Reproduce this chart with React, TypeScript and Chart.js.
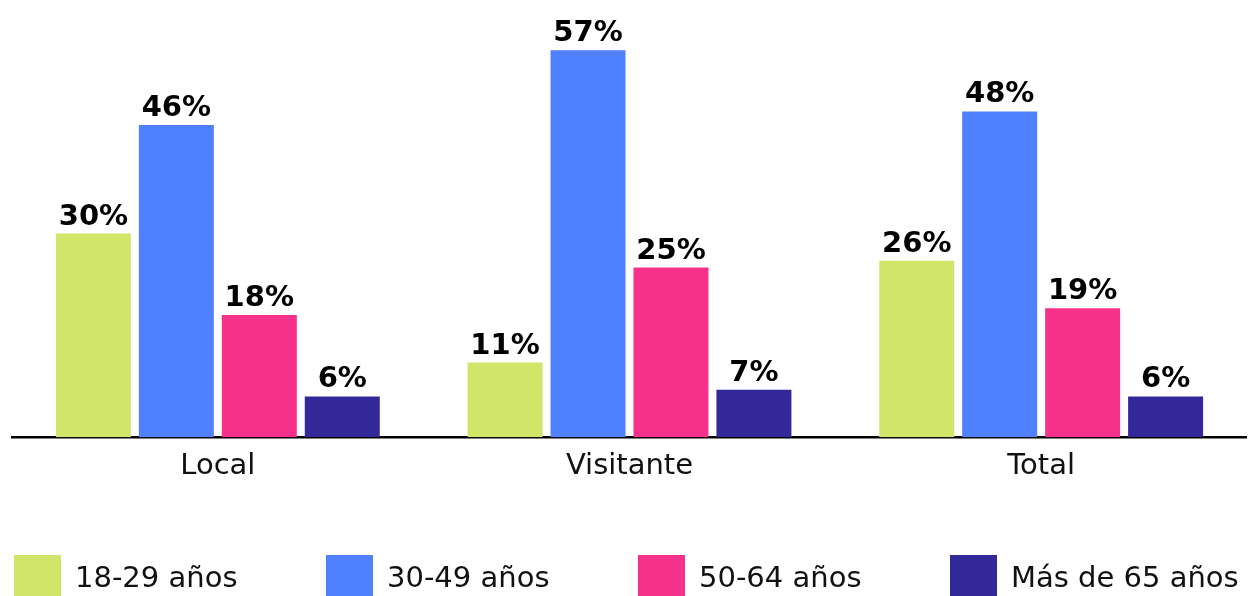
import React, { useEffect, useRef } from "react";
import { Chart, registerables } from "chart.js";

Chart.register(...registerables);

const categories = ["Local", "Visitante", "Total"];
const seriesNames = ["18-29 años", "30-49 años", "50-64 años", "Más de 65 años"];
const age18to29 = [30, 11, 26];
const age30to49 = [46, 57, 48];
const age50to64 = [18, 25, 19];
const age65plus = [6, 7, 6];
const seriesColors = ["#D1E669", "#4F80FF", "#F5318B", "#32289A"];

const FONT = "'DejaVu Sans', sans-serif";

const valueLabels = {
  id: "valueLabels",
  afterDatasetsDraw(chart: any) {
    const ctx = chart.ctx;
    ctx.save();
    ctx.font = `bold 29px ${FONT}`;
    ctx.fillStyle = "#000";
    ctx.textAlign = "center";
    ctx.textBaseline = "alphabetic";
    chart.data.datasets.forEach((ds: any, i: number) => {
      const meta = chart.getDatasetMeta(i);
      meta.data.forEach((bar: any, j: number) => {
        ctx.fillText(`${ds.data[j]}%`, bar.x, bar.y - 9);
      });
    });
    ctx.restore();
  },
};

// Legend laid out on an even grid, as in the reference
const gridLegend = {
  id: "gridLegend",
  afterDraw(chart: any) {
    const ctx = chart.ctx;
    ctx.save();
    ctx.font = `29px ${FONT}`;
    ctx.textBaseline = "middle";
    ctx.textAlign = "left";
    const colW = 312;
    const x0 = 6;
    const boxTop = 547;
    chart.data.datasets.forEach((ds: any, i: number) => {
      const x = x0 + i * colW;
      ctx.fillStyle = ds.backgroundColor;
      ctx.fillRect(x, boxTop, 47, 45);
      ctx.fillStyle = "#111";
      ctx.fillText(ds.label, x + 61, boxTop + 24);
    });
    ctx.restore();
  },
};

export default function App() {
  const ref = useRef<HTMLCanvasElement>(null);
  useEffect(() => {
    const series = [age18to29, age30to49, age50to64, age65plus];
    const chart = new Chart(ref.current!, {
      type: "bar",
      data: {
        labels: categories,
        datasets: series.map((d, i) => ({
          label: seriesNames[i],
          data: d,
          backgroundColor: seriesColors[i],
          borderWidth: 0,
          categoryPercentage: 0.806,
          barPercentage: 0.904,
        })),
      },
      options: {
        animation: false,
        responsive: false,
        maintainAspectRatio: false,
        layout: { padding: { left: 4, right: 0, top: 22, bottom: 108 } },
        scales: {
          x: {
            grid: { display: false },
            border: { display: true, color: "#000", width: 2.5 },
            ticks: { color: "#111", font: { family: FONT, size: 29 }, padding: 4 },
          },
          y: {
            display: false,
            min: 0,
            max: 60,
          },
        },
        plugins: {
          tooltip: { enabled: false },
          legend: { display: false },
        },
      },
      plugins: [valueLabels, gridLegend],
    });
    return () => chart.destroy();
  }, []);
  return (
    <div style={{ width: 1239, height: 588 }}>
      <canvas ref={ref} width={1239} height={588} style={{ display: "block" }} />
    </div>
  );
}
